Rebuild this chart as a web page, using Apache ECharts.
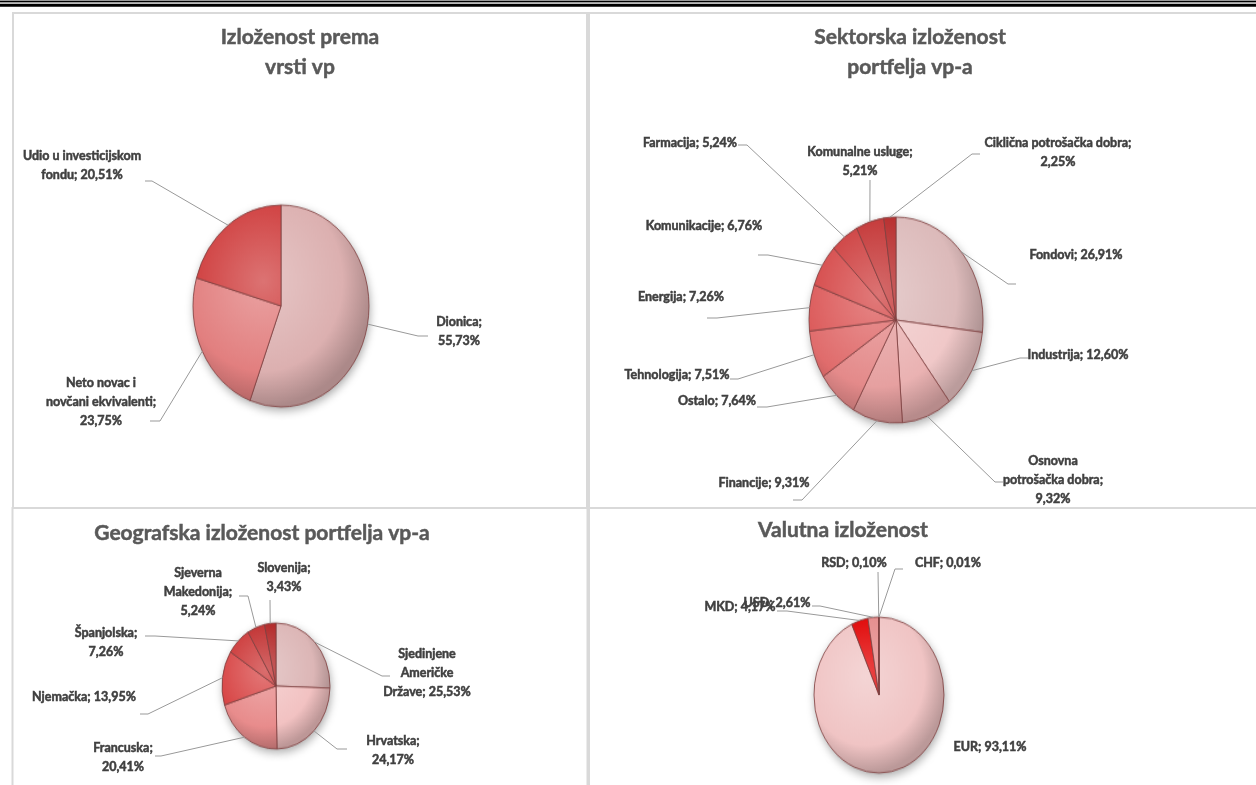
<!DOCTYPE html>
<html><head><meta charset="utf-8">
<script src="https://cdn.jsdelivr.net/npm/echarts@6/dist/echarts.min.js"></script>
<style>
html,body{margin:0;padding:0;background:#fff;width:1256px;height:785px;overflow:hidden;position:relative}
#overlay{position:absolute;left:0;top:0;width:1256px;height:785px;z-index:5}
.pie{position:absolute;z-index:1}
</style></head><body>
<div id="overlay"></div>
<script>
// ---------------- DATA ----------------
const titles = ['Izloženost prema\nvrsti vp', 'Sektorska izloženost\nportfelja vp-a', 'Geografska izloženost portfelja vp-a', 'Valutna izloženost'];

const vrstaNames = ['Dionica', 'Neto novac i\nnovčani ekvivalenti', 'Udio u investicijskom\nfondu'];
const vrstaValues = [55.73, 23.75, 20.51];
const vrstaSep = ['\n', '\n', ' '];

const sektorNames = ['Fondovi', 'Industrija', 'Osnovna\npotrošačka dobra', 'Financije', 'Ostalo', 'Tehnologija', 'Energija', 'Komunikacije', 'Farmacija', 'Komunalne usluge', 'Ciklična potrošačka dobra'];
const sektorValues = [26.91, 12.60, 9.32, 9.31, 7.64, 7.51, 7.26, 6.76, 5.24, 5.21, 2.25];
const sektorSep = [' ', ' ', '\n', ' ', ' ', ' ', ' ', ' ', ' ', '\n', '\n'];

const geoNames = ['Sjedinjene\nAmeričke\nDržave', 'Hrvatska', 'Francuska', 'Njemačka', 'Španjolska', 'Sjeverna\nMakedonija', 'Slovenija'];
const geoValues = [25.53, 24.17, 20.41, 13.95, 7.26, 5.24, 3.43];
const geoSep = [' ', '\n', '\n', ' ', '\n', '\n', '\n'];

const valutaNames = ['EUR', 'MKD', 'USD', 'RSD', 'CHF'];
const valutaValues = [93.11, 4.17, 2.61, 0.10, 0.01];
const valutaSep = [' ', ' ', ' ', ' ', ' '];

// ---------------- LAYOUT / STYLE ----------------
const charts = [
  { names: vrstaNames, values: vrstaValues, seps: vrstaSep,
    cx: 281, cy: 306, rx: 88, ry: 101, title: [300, 52],
    colors: ['#dcb0b0', '#e27f7f', '#cf3c3c'],
    labels: [[459, 331, 428, 336, -10], [101, 402, 150, 421, 10], [82, 165, 145, 181, 7]] },
  { names: sektorNames, values: sektorValues, seps: sektorSep,
    cx: 896, cy: 320, rx: 87, ry: 103, title: [910, 52],
    colors: ['#dcbaba', '#f0c8c8', '#eab2b2', '#e6a0a0', '#e48a8a', '#e06c6c', '#dc5a5a', '#d54848', '#cd3c3c', '#c33232', '#b62828'],
    labels: [[1076, 255, 1016, 284, -8], [1078, 355, 1028, 358, -8], [1053, 480, 1003, 482, -8], [764, 483, 793, 500, 9],
             [717, 401, 757, 407, 10], [677, 375, 730, 379, 8], [681, 297, 707, 318, 10], [704, 226, 758, 255, 10],
             [690, 143, 738, 145, 9], [860, 161, 870, 180, 0], [1058, 152, 980, 154, -8]] },
  { names: geoNames, values: geoValues, seps: geoSep,
    cx: 276, cy: 686, rx: 54, ry: 63, title: [262, 533],
    colors: ['#dcb6b6', '#f2c2c2', '#e88c8c', '#d84646', '#cc3636', '#c02c2c', '#b02222'],
    labels: [[427, 673, 390, 676, -8], [393, 750, 347, 749, -10], [123, 757, 155, 756, 6], [84, 697, 140, 714, 8],
             [106, 642, 145, 636, 10], [198, 592, 239, 596, 9], [284, 577, 270, 600, 0]] },
  { names: valutaNames, values: valutaValues, seps: valutaSep,
    cx: 879, cy: 695, rx: 65, ry: 78, title: [843, 530],
    colors: ['#f0c4c4', '#e00000', '#e48a8a', '#d05050', '#c04040'],
    labels: [[990, 747, null], [740, 607, 777, 611, 10], [777, 603, 812, 606, 8], [854, 563, 878, 572, 0], [948, 563, 903, 569, -8]] }
];

const FONT = 'Lato, "Open Sans", "Noto Sans", sans-serif';

function mix(hex, t) {
  const n = parseInt(hex.slice(1), 16);
  let c = [n >> 16, (n >> 8) & 255, n & 255];
  c = c.map(v => t > 0 ? v + (255 - v) * t : v * (1 + t));
  return 'rgb(' + c.map(v => Math.round(v)).join(',') + ')';
}
function fmt(v) { return v.toFixed(2).replace('.', ','); }

// ---------------- PIE LAYERS (elliptical via CSS scale) ----------------
charts.forEach((c, ci) => {
  const s = 2 * c.rx + 40;
  const d = document.createElement('div');
  d.className = 'pie';
  d.style.width = s + 'px'; d.style.height = s + 'px';
  d.style.left = (c.cx - s / 2) + 'px'; d.style.top = (c.cy - s / 2) + 'px';
  d.style.transform = 'scaleY(' + (c.ry / c.rx) + ')';
  d.style.transformOrigin = '50% 50%';
  document.body.appendChild(d);
  const ch = echarts.init(d, null, { renderer: 'canvas' });
  const data = c.values.map((v, i) => ({
    value: v, name: c.names[i],
    itemStyle: { color: { type: 'radial', x: s / 2 - c.rx * 0.2, y: s / 2 - c.rx * 0.25, r: c.rx * 1.25, global: true,
      colorStops: [{ offset: 0, color: mix(c.colors[i], 0.28) }, { offset: 0.72, color: c.colors[i] }, { offset: 1, color: mix(c.colors[i], -0.22) }] } }
  }));
  ch.setOption({
    animation: false,
    series: [
      { type: 'pie', radius: c.rx, center: ['50%', '50%'], silent: true, z: 1,
        label: { show: false }, labelLine: { show: false },
        itemStyle: { color: '#c8a0a0', shadowBlur: 8, shadowColor: 'rgba(0,0,0,0.35)', shadowOffsetX: 1, shadowOffsetY: 3 },
        data: c.values.map((v, i) => ({ value: v, name: c.names[i] })) },
      { type: 'pie', radius: c.rx, center: ['50%', '50%'], silent: true, z: 2,
        label: { show: false }, labelLine: { show: false },
        itemStyle: { borderColor: '#7d4040', borderWidth: 0.8 },
        data: data }
    ]
  });
});

// ---------------- TEXT / FRAME LAYER ----------------
function anchor(c, i) {
  const tot = c.values.reduce((a, b) => a + b, 0);
  let cum = 0;
  for (let k = 0; k < i; k++) cum += c.values[k];
  const th = 2 * Math.PI * (cum + c.values[i] / 2) / tot;
  return [c.cx + c.rx * Math.sin(th), c.cy - c.ry * Math.cos(th)];
}

const overlayChart = echarts.init(document.getElementById('overlay'), null, { renderer: 'canvas' });
const border = '#d9d9d9';
const graphic = [
  { type: 'rect', shape: { x: 0, y: 0, width: 1256, height: 1 }, style: { fill: '#999' } },
  { type: 'rect', shape: { x: 0, y: 1, width: 1256, height: 1.5 }, style: { fill: '#000' } },
  { type: 'rect', shape: { x: 0, y: 2.5, width: 1256, height: 1.5 }, style: { fill: '#bbb' } },
  { type: 'rect', shape: { x: 0, y: 4, width: 1256, height: 2.8 }, style: { fill: '#000' } },
  { type: 'rect', shape: { x: 13, y: 13, width: 574, height: 495 }, style: { fill: null, stroke: border, lineWidth: 2 } },
  { type: 'rect', shape: { x: 589, y: 13, width: 700, height: 495 }, style: { fill: null, stroke: border, lineWidth: 2 } },
  { type: 'rect', shape: { x: 12.5, y: 508, width: 575, height: 300 }, style: { fill: null, stroke: border, lineWidth: 2 } },
  { type: 'rect', shape: { x: 589, y: 508, width: 700, height: 300 }, style: { fill: null, stroke: border, lineWidth: 2 } }
];
charts.forEach((c, ci) => {
  graphic.push({ type: 'text', x: c.title[0], y: c.title[1], z: 10,
    style: { text: titles[ci], align: 'center', verticalAlign: 'middle', fill: '#595959',
      stroke: '#595959', lineWidth: 0.5,
      font: 'bold 21px ' + FONT, lineHeight: 30 } });
});

const series = charts.map((c, ci) => ({
  type: 'pie', radius: c.rx, center: [c.cx, c.cy], silent: true,
  avoidLabelOverlap: false,
  itemStyle: { color: 'rgba(0,0,0,0)' },
  label: { show: true, position: 'outside', color: '#404040', fontFamily: FONT, fontWeight: 'bold', fontSize: 12.5, lineHeight: 19,
    textBorderColor: '#404040', textBorderWidth: 0.5,
    formatter: p => p.name + ';' + c.seps[p.dataIndex] + fmt(p.value) + '%' },
  labelLine: { show: true, length: 10, length2: 10, lineStyle: { color: '#999999', width: 1 } },
  labelLayout: p => {
    const L = c.labels[p.dataIndex];
    const res = { x: L[0], y: L[1], align: 'center', verticalAlign: 'middle' };
    if (L[2] != null) {
      const a = anchor(c, p.dataIndex);
      res.labelLinePoints = [a, [L[2] + L[4], L[3]], [L[2], L[3]]];
    }
    return res;
  },
  data: c.values.map((v, i) => ({ value: v, name: c.names[i], labelLine: { show: c.labels[i][2] != null } }))
}));

overlayChart.setOption({ animation: false, graphic: graphic, series: series });
</script>
</body></html>
